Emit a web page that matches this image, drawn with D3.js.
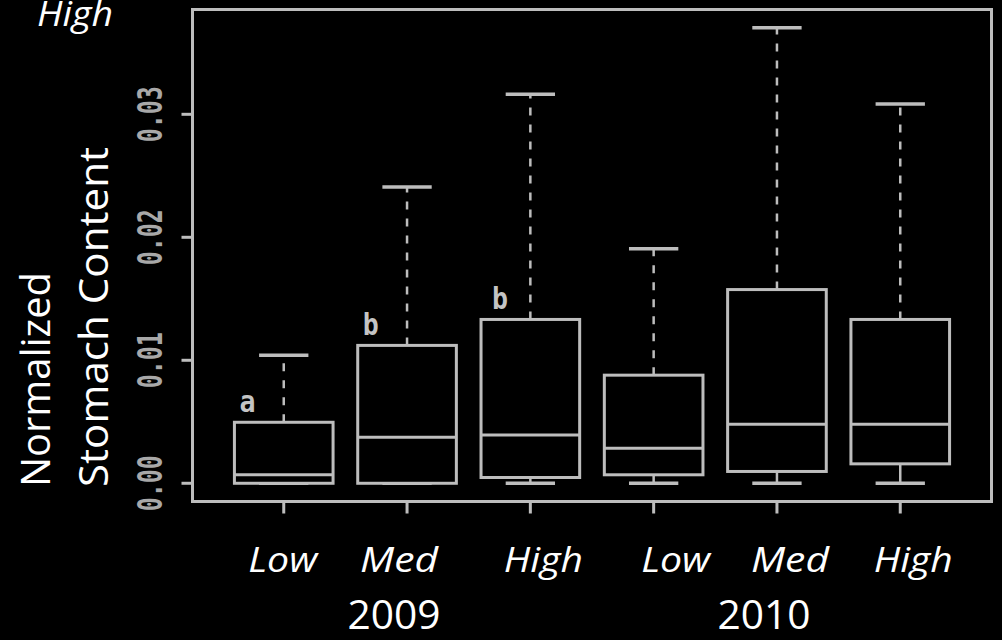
<!DOCTYPE html>
<html>
<head>
<meta charset="utf-8">
<script src="https://cdn.jsdelivr.net/npm/d3@7"></script>
<style>
	html, body { margin: 0; padding: 0; background: #000; }
	svg { display: block; }
</style>
</head>
<body>
<div id="chart"></div>
<script>
// data
const groups = ['Low', 'Med', 'High', 'Low', 'Med', 'High']
const years = ['2009', '2010']
const whiskerLow = [0, 0, 0, 0, 0, 0]
const q1 = [0, 0, 0.00047, 0.00069, 0.00096, 0.00158]
const median = [0.00069, 0.00374, 0.00393, 0.00285, 0.00479, 0.00479]
const q3 = [0.00496, 0.01121, 0.01332, 0.00879, 0.01575, 0.01332]
const whiskerHigh = [0.0104, 0.02409, 0.03164, 0.01907, 0.03704, 0.03083]
const letters = ['a', 'b', 'b', '', '', '']
const yTicks = [0, 0.01, 0.02, 0.03]

const boxes = groups.map((g, i) => ({
	i: i + 1,
	lo: whiskerLow[i],
	q1: q1[i],
	med: median[i],
	q3: q3[i],
	hi: whiskerHigh[i],
	letter: letters[i]
}))

const width = 1002
const height = 640
const frame = { left: 192.5, right: 991.5, top: 9.5, bottom: 501.5 }
const lineColor = '#bdbdbd'
const labelFont = '"Open Sans", Lato, sans-serif'
const pixelFont = '"DejaVu Sans Mono", monospace'

// R style 4% padding on both axes
const yMax = d3.max(whiskerHigh)
const yPad = yMax * 0.04
const y = d3.scaleLinear()
	.domain([0 - yPad, yMax + yPad])
	.range([frame.bottom, frame.top])

const xPad = groups.length * 0.04
const x = d3.scaleLinear()
	.domain([0.5 - xPad, groups.length + 0.5 + xPad])
	.range([frame.left, frame.right])

const step = x(2) - x(1)
const boxW = step * 0.8
const capW = boxW * 0.5

const svg = d3.select('#chart')
	.append('svg')
	.attr('width', width)
	.attr('height', height)
	.style('background', '#000')

// frame
svg.append('rect')
	.attr('x', frame.left)
	.attr('y', frame.top)
	.attr('width', frame.right - frame.left)
	.attr('height', frame.bottom - frame.top)
	.attr('fill', 'none')
	.attr('stroke', lineColor)
	.attr('stroke-width', 3)

// y axis ticks and rotated labels
const yAxis = svg.append('g')
yAxis.selectAll('line')
	.data(yTicks)
	.enter()
	.append('line')
	.attr('x1', frame.left - 11)
	.attr('x2', frame.left)
	.attr('y1', d => y(d))
	.attr('y2', d => y(d))
	.attr('stroke', lineColor)
	.attr('stroke-width', 3)

yAxis.selectAll('text')
	.data(yTicks)
	.enter()
	.append('text')
	.attr('transform', d => `translate(162,${y(d)}) rotate(-90)`)
	.attr('text-anchor', 'middle')
	.attr('font-family', pixelFont)
	.attr('font-weight', 'bold')
	.attr('font-size', 34)
	.attr('fill', '#a8a8a8')
	.attr('textLength', 56)
	.attr('lengthAdjust', 'spacingAndGlyphs')
	.text(d => d3.format('.2f')(d))

// x axis ticks
svg.append('g')
	.selectAll('line')
	.data(boxes)
	.enter()
	.append('line')
	.attr('x1', d => x(d.i))
	.attr('x2', d => x(d.i))
	.attr('y1', frame.bottom)
	.attr('y2', frame.bottom + 12)
	.attr('stroke', lineColor)
	.attr('stroke-width', 3)

// boxes
const box = svg.append('g')
	.selectAll('g')
	.data(boxes)
	.enter()
	.append('g')

// whiskers (dashed)
box.append('line')
	.attr('x1', d => x(d.i))
	.attr('x2', d => x(d.i))
	.attr('y1', d => y(d.q3))
	.attr('y2', d => y(d.hi))
	.attr('stroke', lineColor)
	.attr('stroke-width', 2.5)
	.attr('stroke-dasharray', '8,9')

box.append('line')
	.attr('x1', d => x(d.i))
	.attr('x2', d => x(d.i))
	.attr('y1', d => y(d.q1))
	.attr('y2', d => y(d.lo))
	.attr('stroke', lineColor)
	.attr('stroke-width', 2.5)

// staples
box.selectAll('.cap')
	.data(d => [d.lo, d.hi].map(v => ({ i: d.i, v })))
	.enter()
	.append('line')
	.attr('class', 'cap')
	.attr('x1', d => x(d.i) - capW / 2)
	.attr('x2', d => x(d.i) + capW / 2)
	.attr('y1', d => y(d.v))
	.attr('y2', d => y(d.v))
	.attr('stroke', lineColor)
	.attr('stroke-width', 3.5)

box.append('rect')
	.attr('x', d => x(d.i) - boxW / 2)
	.attr('y', d => y(d.q3))
	.attr('width', boxW)
	.attr('height', d => y(d.q1) - y(d.q3))
	.attr('fill', '#000')
	.attr('stroke', lineColor)
	.attr('stroke-width', 3)

box.append('line')
	.attr('x1', d => x(d.i) - boxW / 2)
	.attr('x2', d => x(d.i) + boxW / 2)
	.attr('y1', d => y(d.med))
	.attr('y2', d => y(d.med))
	.attr('stroke', lineColor)
	.attr('stroke-width', 3)

// significance letters
box.filter(d => d.letter)
	.append('text')
	.attr('x', d => x(d.i) - boxW / 2 + 5 + (d.i === 3 ? 6 : 0))
	.attr('y', d => y(d.q3) - 10)
	.attr('font-family', pixelFont)
	.attr('font-weight', 'bold')
	.attr('font-size', 30)
	.attr('fill', '#c4c4c4')
	.attr('textLength', 16)
	.attr('lengthAdjust', 'spacingAndGlyphs')
	.text(d => d.letter)

// category labels (text boxes sit a bit off the ticks)
const labelNudge = [-1, -8, 13, 22, 13, 13]
const labelWidth = { Low: 69, Med: 78, High: 79 }
svg.append('g')
	.selectAll('text')
	.data(boxes)
	.enter()
	.append('text')
	.attr('x', d => x(d.i) + labelNudge[d.i - 1])
	.attr('y', 572)
	.attr('text-anchor', 'middle')
	.attr('font-family', labelFont)
	.attr('font-style', 'italic')
	.attr('font-size', 35)
	.attr('fill', '#fff')
	.attr('textLength', (d, i) => labelWidth[groups[i]])
	.attr('lengthAdjust', 'spacingAndGlyphs')
	.text((d, i) => groups[i])

// year labels under each group of three
svg.append('g')
	.selectAll('text')
	.data(years)
	.enter()
	.append('text')
	.attr('x', (d, i) => (x(i * 3 + 1) + x(i * 3 + 3)) / 2 - 13)
	.attr('y', 629)
	.attr('text-anchor', 'middle')
	.attr('font-family', labelFont)
	.attr('font-size', 40)
	.attr('fill', '#fff')
	.attr('textLength', 93)
	.attr('lengthAdjust', 'spacingAndGlyphs')
	.text(d => d)

// y title, two rotated lines
const yTitle = [
	{ text: 'Normalized', base: 50, len: 215 },
	{ text: 'Stomach Content', base: 108, len: 340 }
]
svg.append('g')
	.selectAll('text')
	.data(yTitle)
	.enter()
	.append('text')
	.attr('transform', d => `translate(${d.base},487) rotate(-90)`)
	.attr('font-family', labelFont)
	.attr('font-size', 41)
	.attr('fill', '#fff')
	.attr('textLength', d => d.len)
	.attr('lengthAdjust', 'spacingAndGlyphs')
	.text(d => d.text)

// stray "High" cut off at the top left
svg.append('text')
	.attr('x', 37)
	.attr('y', 26)
	.attr('font-family', labelFont)
	.attr('font-style', 'italic')
	.attr('font-size', 35)
	.attr('fill', '#fff')
	.attr('textLength', 76)
	.attr('lengthAdjust', 'spacingAndGlyphs')
	.text('High')
</script>
</body>
</html>
